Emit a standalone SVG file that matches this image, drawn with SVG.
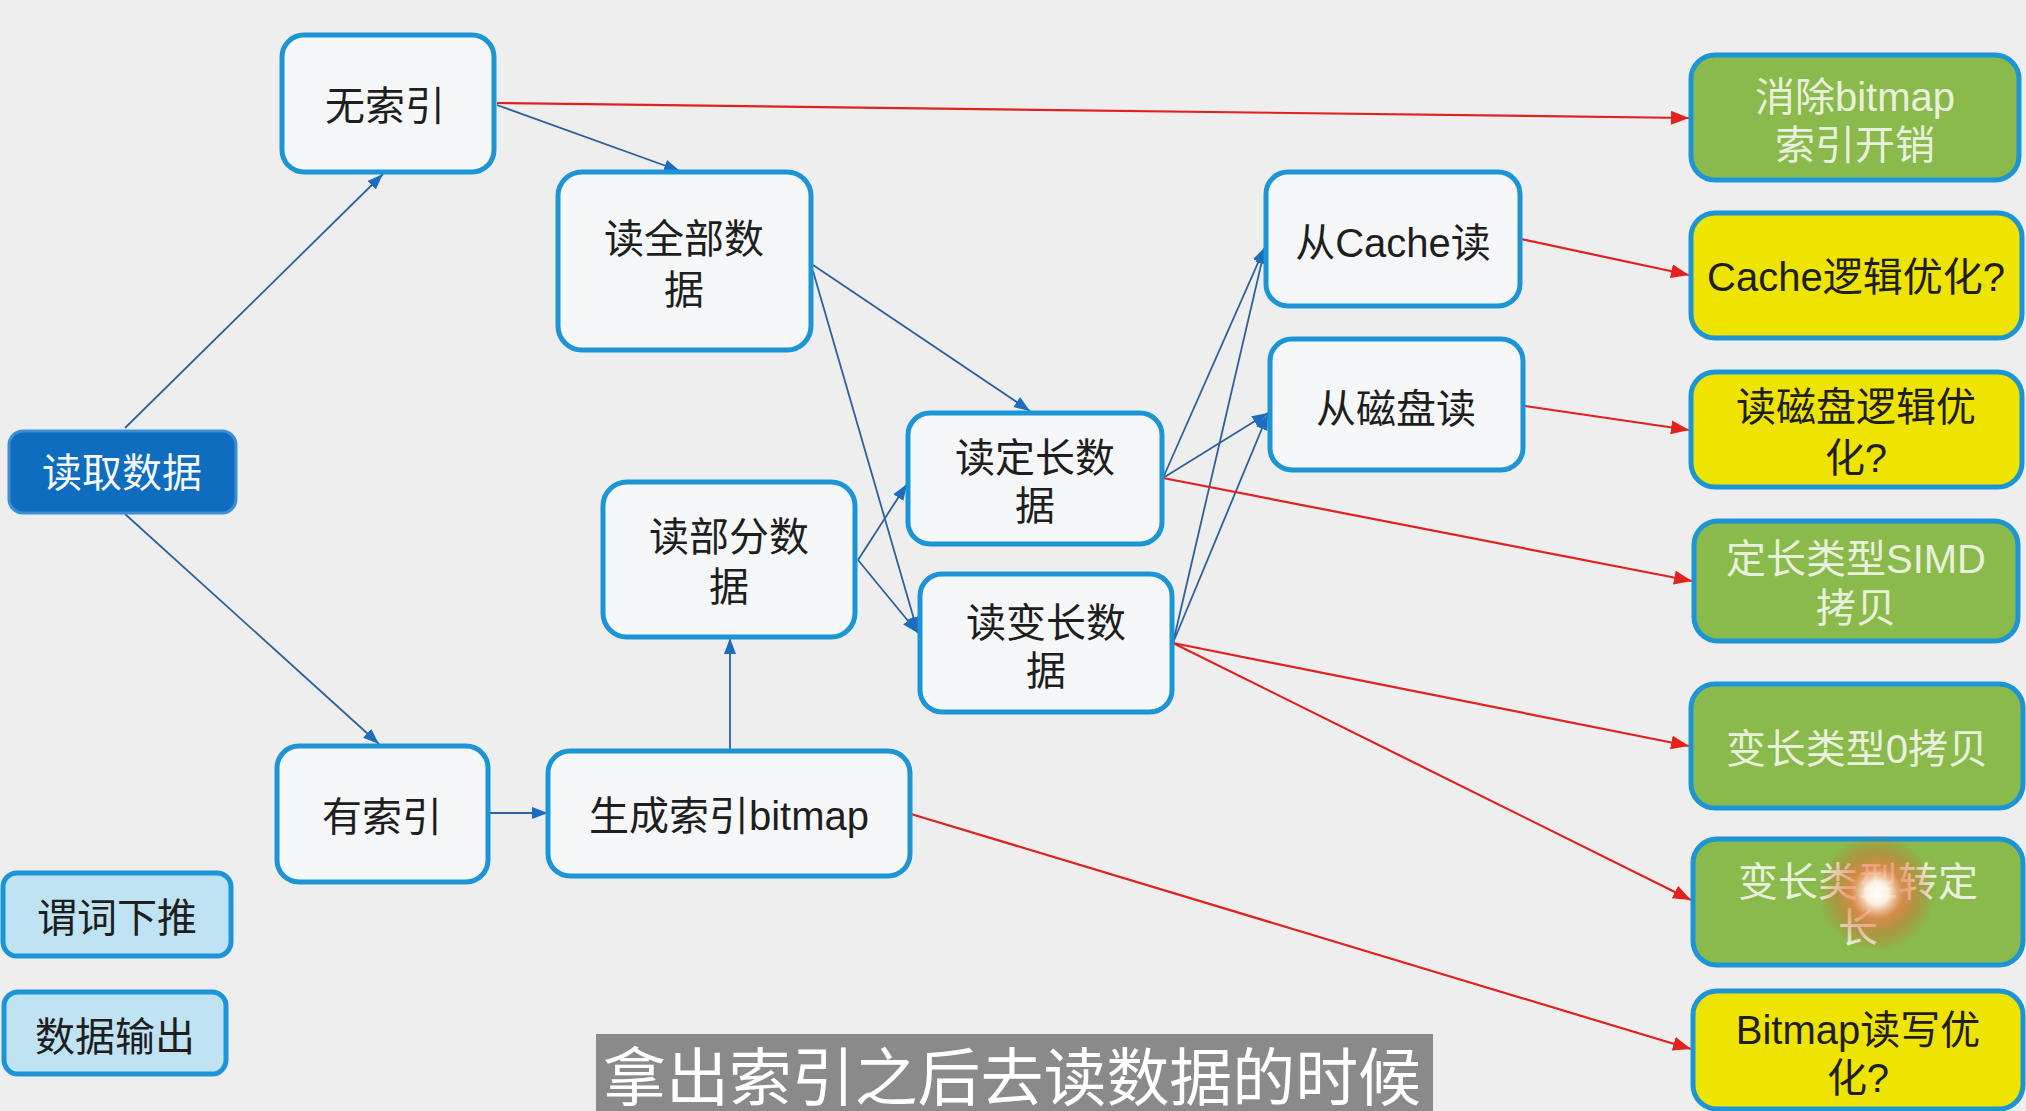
<svg xmlns="http://www.w3.org/2000/svg" width="2026" height="1111" viewBox="0 0 2026 1111">
<style>
.bg{fill:#eeeeee}
.box{fill:#f6f7f8;stroke:#1b95d6;stroke-width:5}
.green{fill:#8aba4b;stroke:#1b95d6;stroke-width:5}
.yellow{fill:#efe300;stroke:#1b95d6;stroke-width:5}
.light{fill:#bfe3f3;stroke:#1b95d6;stroke-width:5}
.dark{fill:#0f6dbf;stroke:#3a8fd6;stroke-width:3}
text{font-family:"Liberation Sans","Noto Sans CJK SC",sans-serif;font-size:40px;text-anchor:middle;dominant-baseline:central;transform:translateY(3px)}
.t{fill:#1e1e1e}
.tw{fill:#f4f6f8}
.tg{fill:#e9f1dc}
.blue{stroke:#2d619b;stroke-width:1.8;fill:none;marker-end:url(#ab)}
.red{stroke:#e0211d;stroke-width:2.2;fill:none;marker-end:url(#ar)}
.sub{font-size:63px;fill:#ffffff;text-anchor:start;dominant-baseline:alphabetic;transform:none}
</style>
<defs>
<marker id="ab" markerUnits="userSpaceOnUse" markerWidth="18" markerHeight="14" refX="16" refY="6" orient="auto"><path d="M0,0 L16,6 L0,12 z" fill="#1c6cbf"/></marker>
<marker id="ar" markerUnits="userSpaceOnUse" markerWidth="20" markerHeight="16" refX="18" refY="7" orient="auto"><path d="M0,0 L18,7 L0,14 z" fill="#e3221d"/></marker>
<radialGradient id="glow" cx="0.5" cy="0.5" r="0.5">
<stop offset="0" stop-color="#ffffff" stop-opacity="1"/>
<stop offset="0.2" stop-color="#fff2e6" stop-opacity="0.95"/>
<stop offset="0.45" stop-color="#f27a4a" stop-opacity="0.7"/>
<stop offset="0.75" stop-color="#e4572e" stop-opacity="0.3"/>
<stop offset="1" stop-color="#e04020" stop-opacity="0"/>
</radialGradient>
</defs>
<rect class="bg" x="0" y="0" width="2026" height="1111"/>

<g id="connectors">
<line class="blue" x1="125" y1="428" x2="383" y2="174"/>
<line class="blue" x1="125" y1="514" x2="379" y2="744"/>
<line class="blue" x1="497" y1="105" x2="680" y2="171"/>
<line class="blue" x1="813" y1="265" x2="1030" y2="411"/>
<line class="blue" x1="813" y1="271" x2="918" y2="633"/>
<line class="blue" x1="858" y1="560" x2="907" y2="484"/>
<line class="blue" x1="858" y1="560" x2="918" y2="633"/>
<line class="blue" x1="490" y1="813" x2="548" y2="813"/>
<line class="blue" x1="730" y1="749" x2="730" y2="638"/>
<line class="blue" x1="1163" y1="478" x2="1265" y2="247"/>
<line class="blue" x1="1163" y1="478" x2="1268" y2="413"/>
<line class="blue" x1="1173" y1="643" x2="1265" y2="248"/>
<line class="blue" x1="1173" y1="643" x2="1268" y2="414"/>
<line class="red" x1="497" y1="103" x2="1689" y2="118"/>
<line class="red" x1="1521" y1="239" x2="1689" y2="275"/>
<line class="red" x1="1525" y1="406" x2="1689" y2="430"/>
<line class="red" x1="1163" y1="478" x2="1692" y2="581"/>
<line class="red" x1="1173" y1="643" x2="1689" y2="746"/>
<line class="red" x1="1173" y1="643" x2="1691" y2="900"/>
<line class="red" x1="911" y1="814" x2="1691" y2="1049"/>
</g>

<g id="n-read"><rect class="dark" x="9" y="431" width="227" height="82" rx="14"/><text class="tw" x="122" y="470">读取数据</text></g>
<g id="n-noindex"><rect class="box" x="282" y="35" width="212" height="137" rx="22"/><text class="t" x="385" y="103">无索引</text></g>
<g id="n-readall"><rect class="box" x="558" y="172" width="253" height="178" rx="24"/><text class="t" x="684" y="236"><tspan x="684" y="236">读全部数</tspan><tspan x="684" y="287">据</tspan></text></g>
<g id="n-readpart"><rect class="box" x="603" y="482" width="252" height="155" rx="24"/><text class="t" x="729" y="534"><tspan x="729" y="534">读部分数</tspan><tspan x="729" y="584">据</tspan></text></g>
<g id="n-fixed"><rect class="box" x="908" y="413" width="254" height="131" rx="22"/><text class="t" x="1035" y="455"><tspan x="1035" y="455">读定长数</tspan><tspan x="1035" y="503">据</tspan></text></g>
<g id="n-var"><rect class="box" x="920" y="574" width="252" height="138" rx="22"/><text class="t" x="1046" y="620"><tspan x="1046" y="620">读变长数</tspan><tspan x="1046" y="668">据</tspan></text></g>
<g id="n-cache"><rect class="box" x="1266" y="172" width="254" height="134" rx="22"/><text class="t" x="1393" y="240">从Cache读</text></g>
<g id="n-disk"><rect class="box" x="1270" y="339" width="253" height="131" rx="22"/><text class="t" x="1396" y="406">从磁盘读</text></g>
<g id="n-index"><rect class="box" x="277" y="746" width="211" height="136" rx="22"/><text class="t" x="382" y="814">有索引</text></g>
<g id="n-bitmap"><rect class="box" x="548" y="751" width="362" height="125" rx="22"/><text class="t" x="729" y="813">生成索引bitmap</text></g>
<g id="n-pushdown"><rect class="light" x="3" y="873" width="228" height="83" rx="14"/><text class="t" x="117" y="915">谓词下推</text></g>
<g id="n-output"><rect class="light" x="4" y="992" width="222" height="82" rx="14"/><text class="t" x="115" y="1034">数据输出</text></g>

<g id="r-bitmapcost"><rect class="green" x="1691" y="55" width="328" height="125" rx="24"/><text class="tg" x="1855" y="94"><tspan x="1855" y="94">消除bitmap</tspan><tspan x="1855" y="142">索引开销</tspan></text></g>
<g id="r-cache"><rect class="yellow" x="1691" y="213" width="331" height="125" rx="24"/><text class="t" x="1856" y="274">Cache逻辑优化?</text></g>
<g id="r-disk"><rect class="yellow" x="1691" y="372" width="331" height="115" rx="24"/><text class="t" x="1856" y="404"><tspan x="1856" y="404">读磁盘逻辑优</tspan><tspan x="1856" y="455">化?</tspan></text></g>
<g id="r-simd"><rect class="green" x="1694" y="521" width="324" height="120" rx="24"/><text class="tg" x="1856" y="556"><tspan x="1856" y="556">定长类型SIMD</tspan><tspan x="1856" y="605">拷贝</tspan></text></g>
<g id="r-zerocopy"><rect class="green" x="1691" y="684" width="332" height="124" rx="24"/><text class="tg" x="1857" y="746">变长类型0拷贝</text></g>
<g id="r-tofixed"><rect class="green" x="1693" y="839" width="330" height="126" rx="24"/><text class="tg" x="1858" y="879"><tspan x="1858" y="879">变长类型转定</tspan><tspan x="1858" y="925">长</tspan></text><circle cx="1877" cy="893" r="58" fill="url(#glow)"/></g>
<g id="r-bitmaprw"><rect class="yellow" x="1693" y="991" width="330" height="118" rx="24"/><text class="t" x="1858" y="1027"><tspan x="1858" y="1027">Bitmap读写优</tspan><tspan x="1858" y="1075">化?</tspan></text></g>

<g id="subtitle"><rect x="596" y="1034" width="837" height="77" fill="#8a8a8a"/><text class="sub" x="603" y="1100" textLength="818" lengthAdjust="spacingAndGlyphs">拿出索引之后去读数据的时候</text></g>
</svg>
